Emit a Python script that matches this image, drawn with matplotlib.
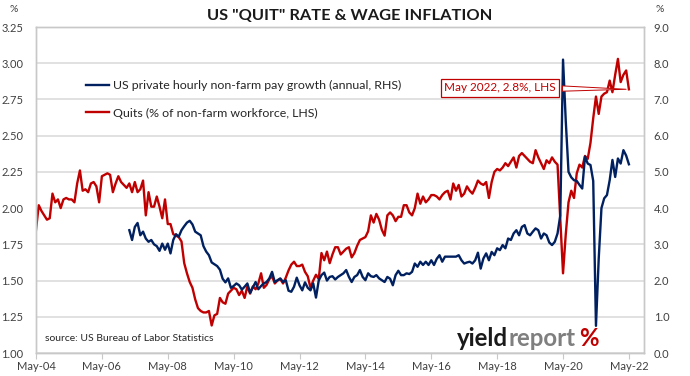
import numpy as np
import pandas as pd
import matplotlib
matplotlib.use('Agg')
import matplotlib.pyplot as plt

plt.rcParams['font.family'] = ['Lato', 'DejaVu Sans']

##########################
# Data
##########################

# Quits, % of non-farm workforce (LHS), monthly from May 2004
quits_start = '2004-05'
quits = [
    1.85, 2.02, 1.98, 1.95, 1.92, 1.93, 2.10, 2.04, 2.06, 2.00, 2.06, 2.07,
    2.06, 2.06, 2.04, 2.17, 2.26, 2.12, 2.13, 2.11, 2.17, 2.18, 2.15, 2.04,
    2.22, 2.23, 2.24, 2.23, 2.11, 2.17, 2.22, 2.18, 2.16, 2.14, 2.17, 2.11,
    2.18, 2.11, 2.13, 2.19, 1.95, 2.11, 2.01, 2.01, 2.08, 2.01, 1.93, 2.06,
    1.89, 1.89, 1.82, 1.81, 1.80, 1.77, 1.62, 1.55, 1.49, 1.45, 1.37, 1.31,
    1.29, 1.28, 1.28, 1.29, 1.19, 1.26, 1.27, 1.38, 1.35, 1.34, 1.41, 1.43,
    1.45, 1.44, 1.40, 1.43, 1.38, 1.46, 1.41, 1.46, 1.44, 1.48, 1.55, 1.45,
    1.47, 1.51, 1.53, 1.48, 1.50, 1.51, 1.48, 1.52, 1.57, 1.61, 1.63, 1.60,
    1.60, 1.61, 1.56, 1.53, 1.45, 1.50, 1.54, 1.51, 1.69, 1.64, 1.70, 1.62,
    1.68, 1.73, 1.73, 1.68, 1.70, 1.72, 1.73, 1.66, 1.69, 1.74, 1.78, 1.79,
    1.80, 1.84, 1.95, 1.90, 1.96, 1.92, 1.85, 1.81, 1.95, 1.97, 1.95, 1.91,
    1.94, 1.94, 2.02, 2.02, 1.97, 1.95, 2.00, 2.10, 2.03, 2.08, 2.04, 2.06,
    2.09, 2.09, 2.08, 2.06, 2.09, 2.11, 2.12, 2.06, 2.17, 2.12, 2.16, 2.08,
    2.10, 2.15, 2.12, 2.10, 2.14, 2.19, 2.17, 2.16, 2.18, 2.07, 2.18, 2.25,
    2.27, 2.26, 2.28, 2.31, 2.29, 2.32, 2.35, 2.28, 2.36, 2.38, 2.36, 2.34,
    2.32, 2.31, 2.40, 2.35, 2.31, 2.27, 2.33, 2.31, 2.35, 2.32, 2.30, 1.92,
    1.55, 1.82, 2.04, 2.12, 2.07, 2.24, 2.30, 2.28, 2.36, 2.34, 2.45, 2.62,
    2.77, 2.65, 2.77, 2.79, 2.80, 2.88, 2.80, 2.92, 3.03, 2.87, 2.92, 2.95,
    2.82,
]

# US private hourly non-farm pay growth, annual % (RHS), monthly from Mar 2007
wage_start = '2007-03'
wage = [
    3.39, 3.12,
    3.48, 3.59, 3.25, 3.35, 3.16, 3.07, 3.12, 3.00, 2.95, 2.82, 3.02, 2.85,
    3.02, 2.75, 3.12, 3.28, 3.21, 3.39, 3.50, 3.60, 3.65, 3.55, 3.35, 3.30,
    3.25, 2.95, 2.80, 2.70, 2.50, 2.45, 2.40, 2.30, 2.05, 1.95, 2.06, 1.80,
    1.85, 1.92, 1.87, 1.75, 1.83, 1.92, 1.66, 1.81, 1.96, 1.76, 1.85, 1.92,
    1.96, 2.06, 2.24, 1.96, 2.01, 2.06, 1.96, 2.01, 1.72, 1.69, 1.83, 2.08,
    1.87, 1.73, 1.95, 1.80, 1.73, 1.92, 1.53, 2.00, 2.15, 2.22, 2.00, 2.10,
    2.12, 2.03, 2.10, 2.15, 2.20, 2.29, 2.10, 1.96, 2.10, 2.15, 2.29, 2.10,
    2.01, 2.20, 2.12, 2.10, 2.15, 2.06, 2.01, 1.96, 2.10, 2.05, 1.87, 2.15,
    2.27, 2.15, 2.15, 2.20, 2.18, 2.24, 2.47, 2.38, 2.52, 2.43, 2.52, 2.43,
    2.56, 2.43, 2.60, 2.70, 2.52, 2.66, 2.66, 2.66, 2.66, 2.66, 2.70, 2.56,
    2.47, 2.50, 2.52, 2.47, 2.56, 2.77, 2.33, 2.61, 2.75, 2.56, 2.79, 2.70,
    2.89, 2.84, 2.98, 2.89, 3.16, 3.12, 3.30, 3.39, 3.25, 3.48, 3.53, 3.30,
    3.25, 3.35, 3.44, 3.39, 3.16, 3.30, 3.25, 3.05, 2.98, 3.07, 3.30, 3.80,
    8.10, 6.40, 5.00, 4.85, 4.77, 4.75, 4.64, 4.54, 5.42, 5.23, 5.19, 4.75,
    0.75, 2.60, 4.00, 4.27, 4.36, 4.77, 5.33, 4.86, 5.37, 5.23, 5.60, 5.45,
    5.21,
]

x_labels = ['May-04', 'May-06', 'May-08', 'May-10', 'May-12', 'May-14',
            'May-16', 'May-18', 'May-20', 'May-22']
lhs_ticks = [1.00, 1.25, 1.50, 1.75, 2.00, 2.25, 2.50, 2.75, 3.00, 3.25]
rhs_ticks = [0, 1, 2, 3, 4, 5, 6, 7, 8, 9]

red = '#c00000'
navy = '#002060'
grey = '#d9d9d9'

##########################
# Month positions
##########################

base = pd.Period(quits_start, freq='M')
x_quits = np.arange(len(quits))
x_wage = (pd.Period(wage_start, freq='M') - base).n + np.arange(len(wage))
x_ticks = [(pd.Period('20' + s[-2:] + '-05', freq='M') - base).n for s in x_labels]

##########################
# Figure
##########################

fig = plt.figure(figsize=(6.9, 3.76), dpi=100)
ax = fig.add_axes([36/690, 1 - 353/376, 608/690, 326/376])
ax2 = ax.twinx()

l_red, = ax.plot(x_quits, quits, color=red, lw=1.7, solid_joinstyle='round')
l_blue, = ax2.plot(x_wage, wage, color=navy, lw=1.7, solid_joinstyle='round')

ax.set_xlim(0, 221.5)
ax.set_ylim(1.0, 3.25)
ax2.set_ylim(0, 9)

ax.set_yticks(lhs_ticks)
ax.set_yticklabels(['%.2f' % v for v in lhs_ticks])
ax2.set_yticks(rhs_ticks)
ax2.set_yticklabels(['%.1f' % v for v in rhs_ticks])
ax.set_xticks(x_ticks)
ax.set_xticklabels(x_labels)

ax.set_axisbelow(True)
ax.yaxis.grid(True, color=grey, lw=1.1)
for a in (ax, ax2):
    for s in a.spines.values():
        s.set_color('#c8c8c8')
        s.set_linewidth(1)
ax.tick_params(axis='x', length=4, color='#c8c8c8', labelsize=8, pad=2,
               labelcolor='#404040')
ax.tick_params(axis='y', length=0, labelsize=8, pad=9, labelcolor='#404040')
ax2.tick_params(axis='y', length=0, labelsize=8, pad=7, labelcolor='#404040')

# legend
ax2.legend([l_blue, l_red],
           ['US private hourly non-farm pay growth (annual, RHS)',
            'Quits (% of non-farm workforce, LHS)'],
           loc='upper left', bbox_to_anchor=(0.082, 0.838), frameon=False,
           fontsize=8.9, handlelength=1.9, handletextpad=0.3, labelspacing=1.35,
           borderpad=0, borderaxespad=0, labelcolor='#262626')

# callout on the last quits value
ax2.annotate('May 2022, 2.8%, LHS', xy=(x_quits[-1], quits[-1]),
             xycoords=ax.transData, xytext=(169, 2.83),
             textcoords=ax.transData, color=red, fontsize=8.5,
             ha='center', va='center',
             bbox=dict(boxstyle='square,pad=0.3', fc='white', ec=red, lw=0.9),
             arrowprops=dict(arrowstyle='wedge,tail_width=0.45,shrink_factor=0.5',
                             fc='white', ec=red, lw=0.7))

ax.text(0.015, 0.046, 'source: US Bureau of Labor Statistics',
        transform=ax.transAxes, fontsize=7.5, va='center', color='#262626')

fig.text(350/690, 1 - 16/376, 'US "QUIT" RATE & WAGE INFLATION',
         ha='center', va='center', fontsize=11.8, fontweight='bold',
         color='#1a1a1a')
fig.text(14/690, 1 - 10/376, '%', ha='center', va='center', fontsize=7.5,
         color='#404040')
fig.text(660/690, 1 - 10/376, '%', ha='center', va='center', fontsize=7.5,
         color='#404040')

# logo: pieces placed one after another
renderer = fig.canvas.get_renderer()
x0 = 457
for word, col, gap in [('yield', '#1a1a1a', 0), ('report', '#7f7f7f', 4),
                       ('%', red, 0)]:
    t = fig.text(x0/690, 1 - 346/376, word, fontsize=17.3, fontweight='bold',
                 color=col, va='baseline')
    x0 = t.get_window_extent(renderer).x1 + gap

fig.savefig('out.png', dpi=100)
